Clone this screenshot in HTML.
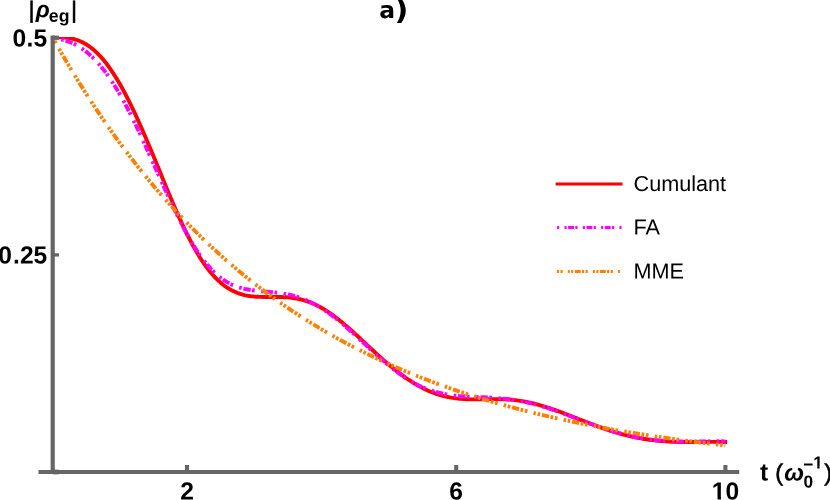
<!DOCTYPE html>
<html><head><meta charset="utf-8"><title>plot</title>
<style>
html,body{margin:0;padding:0;background:#fff;}
body{width:830px;height:500px;overflow:hidden;}
svg{display:block;will-change:transform;}
text{font-family:"Liberation Sans",sans-serif;fill:#000;text-rendering:geometricPrecision;}
.b{font-weight:bold;font-size:24.6px;}
.r{font-size:23.5px;stroke:#000;stroke-width:0.55px;}
.lg{font-size:21.65px;}
</style></head><body>
<svg width="830" height="500" viewBox="0 0 830 500">
<rect width="830" height="500" fill="#fff"/>
<clipPath id="pc"><rect x="50" y="36.9" width="690" height="440"/></clipPath>
<g fill="none" stroke-width="3.9" stroke-linejoin="round" clip-path="url(#pc)">
<path id="red" stroke="#ff0000" stroke-linecap="square" d="M52.75 37.70 L54.43 37.59 L56.11 37.50 L57.79 37.44 L59.48 37.41 L61.16 37.41 L62.84 37.46 L64.52 37.55 L66.20 37.69 L67.88 37.88 L69.56 38.12 L71.24 38.43 L72.93 38.81 L74.61 39.25 L76.29 39.76 L77.97 40.34 L79.65 41.01 L81.33 41.75 L83.01 42.57 L84.69 43.48 L86.38 44.48 L88.06 45.57 L89.74 46.75 L91.42 48.02 L93.10 49.38 L94.78 50.84 L96.46 52.40 L98.14 54.05 L99.83 55.80 L101.51 57.65 L103.19 59.60 L104.87 61.64 L106.55 63.79 L108.23 66.03 L109.91 68.36 L111.59 70.79 L113.28 73.32 L114.96 75.94 L116.64 78.65 L118.32 81.46 L120.00 84.35 L121.68 87.32 L123.36 90.38 L125.04 93.52 L126.73 96.75 L128.41 100.04 L130.09 103.41 L131.77 106.86 L133.45 110.37 L135.13 113.94 L136.81 117.58 L138.49 121.27 L140.18 125.02 L141.86 128.82 L143.54 132.66 L145.22 136.55 L146.90 140.48 L148.58 144.45 L150.26 148.45 L151.94 152.47 L153.62 156.52 L155.31 160.59 L156.99 164.68 L158.67 168.77 L160.35 172.86 L162.03 176.96 L163.71 181.05 L165.39 185.13 L167.08 189.19 L168.76 193.23 L170.44 197.23 L172.12 201.21 L173.80 205.15 L175.48 209.04 L177.16 212.88 L178.84 216.67 L180.53 220.39 L182.21 224.05 L183.89 227.64 L185.57 231.15 L187.25 234.58 L188.93 237.93 L190.61 241.18 L192.29 244.35 L193.97 247.42 L195.66 250.39 L197.34 253.26 L199.02 256.03 L200.70 258.70 L202.38 261.27 L204.06 263.74 L205.74 266.10 L207.43 268.36 L209.11 270.52 L210.79 272.58 L212.47 274.54 L214.15 276.39 L215.83 278.16 L217.51 279.82 L219.19 281.39 L220.88 282.87 L222.56 284.25 L224.24 285.55 L225.92 286.76 L227.60 287.89 L229.28 288.93 L230.96 289.89 L232.64 290.78 L234.33 291.59 L236.01 292.33 L237.69 293.00 L239.37 293.60 L241.05 294.14 L242.73 294.62 L244.41 295.04 L246.09 295.41 L247.78 295.73 L249.46 296.00 L251.14 296.23 L252.82 296.42 L254.50 296.58 L256.18 296.70 L257.86 296.80 L259.54 296.87 L261.23 296.92 L262.91 296.95 L264.59 296.97 L266.27 296.98 L267.95 296.97 L269.63 296.97 L271.31 296.96 L272.99 296.95 L274.68 296.95 L276.36 296.95 L278.04 296.97 L279.72 296.99 L281.40 297.04 L283.08 297.10 L284.76 297.18 L286.44 297.28 L288.12 297.42 L289.81 297.57 L291.49 297.76 L293.17 297.99 L294.85 298.24 L296.53 298.53 L298.21 298.86 L299.89 299.23 L301.58 299.64 L303.26 300.09 L304.94 300.58 L306.62 301.12 L308.30 301.70 L309.98 302.33 L311.66 302.99 L313.34 303.71 L315.03 304.47 L316.71 305.27 L318.39 306.13 L320.07 307.02 L321.75 307.96 L323.43 308.94 L325.11 309.97 L326.79 311.03 L328.48 312.14 L330.16 313.29 L331.84 314.47 L333.52 315.69 L335.20 316.95 L336.88 318.24 L338.56 319.56 L340.24 320.91 L341.93 322.29 L343.61 323.70 L345.29 325.13 L346.97 326.58 L348.65 328.05 L350.33 329.54 L352.01 331.05 L353.69 332.57 L355.38 334.11 L357.06 335.65 L358.74 337.21 L360.42 338.77 L362.10 340.33 L363.78 341.90 L365.46 343.48 L367.14 345.05 L368.82 346.62 L370.51 348.18 L372.19 349.74 L373.87 351.30 L375.55 352.84 L377.23 354.38 L378.91 355.90 L380.59 357.42 L382.28 358.92 L383.96 360.40 L385.64 361.87 L387.32 363.32 L389.00 364.75 L390.68 366.16 L392.36 367.55 L394.04 368.92 L395.73 370.27 L397.41 371.59 L399.09 372.89 L400.77 374.16 L402.45 375.41 L404.13 376.62 L405.81 377.82 L407.49 378.98 L409.18 380.11 L410.86 381.21 L412.54 382.28 L414.22 383.33 L415.90 384.33 L417.58 385.31 L419.26 386.25 L420.94 387.16 L422.62 388.04 L424.31 388.88 L425.99 389.68 L427.67 390.45 L429.35 391.19 L431.03 391.89 L432.71 392.55 L434.39 393.18 L436.07 393.78 L437.76 394.34 L439.44 394.87 L441.12 395.36 L442.80 395.82 L444.48 396.25 L446.16 396.65 L447.84 397.01 L449.53 397.35 L451.21 397.66 L452.89 397.93 L454.57 398.18 L456.25 398.41 L457.93 398.60 L459.61 398.78 L461.29 398.92 L462.98 399.05 L464.66 399.15 L466.34 399.24 L468.02 399.30 L469.70 399.35 L471.38 399.38 L473.06 399.40 L474.74 399.40 L476.43 399.39 L478.11 399.38 L479.79 399.36 L481.47 399.33 L483.15 399.30 L484.83 399.26 L486.51 399.23 L488.19 399.20 L489.88 399.17 L491.56 399.15 L493.24 399.14 L494.92 399.13 L496.60 399.14 L498.28 399.15 L499.96 399.18 L501.64 399.22 L503.32 399.28 L505.01 399.35 L506.69 399.44 L508.37 399.54 L510.05 399.67 L511.73 399.81 L513.41 399.97 L515.09 400.15 L516.78 400.36 L518.46 400.58 L520.14 400.82 L521.82 401.08 L523.50 401.37 L525.18 401.67 L526.86 402.00 L528.54 402.35 L530.23 402.71 L531.91 403.10 L533.59 403.50 L535.27 403.92 L536.95 404.36 L538.63 404.82 L540.31 405.30 L541.99 405.79 L543.68 406.29 L545.36 406.81 L547.04 407.35 L548.72 407.90 L550.40 408.46 L552.08 409.03 L553.76 409.61 L555.44 410.21 L557.12 410.81 L558.81 411.42 L560.49 412.04 L562.17 412.67 L563.85 413.31 L565.53 413.95 L567.21 414.59 L568.89 415.24 L570.58 415.90 L572.26 416.55 L573.94 417.21 L575.62 417.87 L577.30 418.53 L578.98 419.19 L580.66 419.85 L582.34 420.51 L584.02 421.16 L585.71 421.81 L587.39 422.46 L589.07 423.11 L590.75 423.74 L592.43 424.38 L594.11 425.01 L595.79 425.63 L597.48 426.24 L599.16 426.85 L600.84 427.45 L602.52 428.04 L604.20 428.62 L605.88 429.19 L607.56 429.76 L609.24 430.31 L610.93 430.85 L612.61 431.38 L614.29 431.90 L615.97 432.41 L617.65 432.90 L619.33 433.38 L621.01 433.85 L622.69 434.31 L624.38 434.75 L626.06 435.18 L627.74 435.60 L629.42 436.00 L631.10 436.39 L632.78 436.76 L634.46 437.12 L636.14 437.47 L637.83 437.80 L639.51 438.12 L641.19 438.42 L642.87 438.71 L644.55 438.99 L646.23 439.25 L647.91 439.50 L649.59 439.74 L651.27 439.96 L652.96 440.17 L654.64 440.37 L656.32 440.55 L658.00 440.73 L659.68 440.89 L661.36 441.04 L663.04 441.18 L664.73 441.30 L666.41 441.42 L668.09 441.52 L669.77 441.62 L671.45 441.70 L673.13 441.78 L674.81 441.84 L676.49 441.90 L678.18 441.95 L679.86 441.99 L681.54 442.02 L683.22 442.05 L684.90 442.07 L686.58 442.08 L688.26 442.08 L689.94 442.08 L691.62 442.08 L693.31 442.07 L694.99 442.06 L696.67 442.04 L698.35 442.02 L700.03 442.00 L701.71 441.98 L703.39 441.96 L705.08 441.94 L706.76 441.92 L708.44 441.90 L710.12 441.88 L711.80 441.87 L713.48 441.86 L715.16 441.86 L716.84 441.86 L718.52 441.87 L720.21 441.88 L721.89 441.91 L723.57 441.95 L725.25 441.99"/>
<path id="mag" stroke="#ff00ff" stroke-dasharray="2.574 1.84 7.36 1.468 2.695 6.506" stroke-dashoffset="13.67" d="M52.75 37.47 L54.43 37.78 L56.11 38.12 L57.79 38.48 L59.48 38.87 L61.16 39.29 L62.84 39.75 L64.52 40.25 L66.20 40.79 L67.88 41.38 L69.56 42.02 L71.24 42.72 L72.93 43.47 L74.61 44.28 L76.29 45.16 L77.97 46.10 L79.65 47.11 L81.33 48.19 L83.01 49.34 L84.69 50.56 L86.38 51.86 L88.06 53.24 L89.74 54.69 L91.42 56.23 L93.10 57.84 L94.78 59.54 L96.46 61.31 L98.14 63.17 L99.83 65.11 L101.51 67.13 L103.19 69.23 L104.87 71.42 L106.55 73.68 L108.23 76.03 L109.91 78.46 L111.59 80.97 L113.28 83.56 L114.96 86.22 L116.64 88.96 L118.32 91.78 L120.00 94.67 L121.68 97.64 L123.36 100.67 L125.04 103.77 L126.73 106.94 L128.41 110.17 L130.09 113.46 L131.77 116.80 L133.45 120.20 L135.13 123.66 L136.81 127.16 L138.49 130.70 L140.18 134.29 L141.86 137.91 L143.54 141.57 L145.22 145.25 L146.90 148.96 L148.58 152.69 L150.26 156.44 L151.94 160.20 L153.62 163.96 L155.31 167.73 L156.99 171.50 L158.67 175.26 L160.35 179.01 L162.03 182.74 L163.71 186.46 L165.39 190.16 L167.08 193.84 L168.76 197.48 L170.44 201.10 L172.12 204.67 L173.80 208.21 L175.48 211.70 L177.16 215.15 L178.84 218.54 L180.53 221.88 L182.21 225.15 L183.89 228.37 L185.57 231.52 L187.25 234.60 L188.93 237.60 L190.61 240.53 L192.29 243.37 L193.97 246.13 L195.66 248.80 L197.34 251.38 L199.02 253.87 L200.70 256.28 L202.38 258.58 L204.06 260.80 L205.74 262.92 L207.43 264.95 L209.11 266.88 L210.79 268.73 L212.47 270.48 L214.15 272.15 L215.83 273.72 L217.51 275.21 L219.19 276.61 L220.88 277.92 L222.56 279.15 L224.24 280.30 L225.92 281.38 L227.60 282.37 L229.28 283.30 L230.96 284.15 L232.64 284.93 L234.33 285.65 L236.01 286.31 L237.69 286.90 L239.37 287.45 L241.05 287.94 L242.73 288.39 L244.41 288.79 L246.09 289.15 L247.78 289.48 L249.46 289.77 L251.14 290.04 L252.82 290.28 L254.50 290.49 L256.18 290.69 L257.86 290.87 L259.54 291.04 L261.23 291.20 L262.91 291.35 L264.59 291.49 L266.27 291.64 L267.95 291.78 L269.63 291.93 L271.31 292.08 L272.99 292.24 L274.68 292.41 L276.36 292.60 L278.04 292.80 L279.72 293.02 L281.40 293.26 L283.08 293.52 L284.76 293.80 L286.44 294.11 L288.12 294.45 L289.81 294.82 L291.49 295.23 L293.17 295.66 L294.85 296.13 L296.53 296.63 L298.21 297.17 L299.89 297.75 L301.58 298.36 L303.26 299.00 L304.94 299.69 L306.62 300.40 L308.30 301.16 L309.98 301.95 L311.66 302.77 L313.34 303.62 L315.03 304.52 L316.71 305.44 L318.39 306.41 L320.07 307.40 L321.75 308.44 L323.43 309.51 L325.11 310.61 L326.79 311.75 L328.48 312.92 L330.16 314.12 L331.84 315.36 L333.52 316.63 L335.20 317.92 L336.88 319.25 L338.56 320.60 L340.24 321.98 L341.93 323.38 L343.61 324.81 L345.29 326.26 L346.97 327.72 L348.65 329.21 L350.33 330.71 L352.01 332.22 L353.69 333.75 L355.38 335.29 L357.06 336.84 L358.74 338.40 L360.42 339.96 L362.10 341.52 L363.78 343.09 L365.46 344.65 L367.14 346.21 L368.82 347.77 L370.51 349.32 L372.19 350.87 L373.87 352.41 L375.55 353.93 L377.23 355.44 L378.91 356.94 L380.59 358.43 L382.28 359.90 L383.96 361.35 L385.64 362.78 L387.32 364.19 L389.00 365.58 L390.68 366.94 L392.36 368.28 L394.04 369.60 L395.73 370.89 L397.41 372.15 L399.09 373.39 L400.77 374.59 L402.45 375.77 L404.13 376.91 L405.81 378.02 L407.49 379.10 L409.18 380.15 L410.86 381.16 L412.54 382.14 L414.22 383.08 L415.90 383.99 L417.58 384.86 L419.26 385.69 L420.94 386.48 L422.62 387.23 L424.31 387.95 L425.99 388.63 L427.67 389.28 L429.35 389.89 L431.03 390.46 L432.71 391.01 L434.39 391.52 L436.07 392.00 L437.76 392.45 L439.44 392.87 L441.12 393.27 L442.80 393.64 L444.48 393.99 L446.16 394.32 L447.84 394.62 L449.53 394.90 L451.21 395.15 L452.89 395.39 L454.57 395.60 L456.25 395.80 L457.93 395.97 L459.61 396.13 L461.29 396.27 L462.98 396.40 L464.66 396.52 L466.34 396.62 L468.02 396.71 L469.70 396.78 L471.38 396.86 L473.06 396.92 L474.74 396.98 L476.43 397.03 L478.11 397.09 L479.79 397.14 L481.47 397.19 L483.15 397.25 L484.83 397.32 L486.51 397.39 L488.19 397.47 L489.88 397.56 L491.56 397.66 L493.24 397.77 L494.92 397.89 L496.60 398.03 L498.28 398.17 L499.96 398.33 L501.64 398.49 L503.32 398.67 L505.01 398.86 L506.69 399.06 L508.37 399.28 L510.05 399.50 L511.73 399.74 L513.41 399.99 L515.09 400.25 L516.78 400.52 L518.46 400.81 L520.14 401.11 L521.82 401.42 L523.50 401.75 L525.18 402.10 L526.86 402.46 L528.54 402.83 L530.23 403.22 L531.91 403.63 L533.59 404.05 L535.27 404.48 L536.95 404.93 L538.63 405.39 L540.31 405.87 L541.99 406.35 L543.68 406.86 L545.36 407.37 L547.04 407.89 L548.72 408.43 L550.40 408.98 L552.08 409.53 L553.76 410.10 L555.44 410.68 L557.12 411.27 L558.81 411.86 L560.49 412.46 L562.17 413.08 L563.85 413.69 L565.53 414.32 L567.21 414.95 L568.89 415.58 L570.58 416.22 L572.26 416.85 L573.94 417.50 L575.62 418.14 L577.30 418.78 L578.98 419.43 L580.66 420.07 L582.34 420.71 L584.02 421.35 L585.71 421.99 L587.39 422.62 L589.07 423.25 L590.75 423.88 L592.43 424.50 L594.11 425.11 L595.79 425.72 L597.48 426.32 L599.16 426.91 L600.84 427.50 L602.52 428.08 L604.20 428.64 L605.88 429.20 L607.56 429.75 L609.24 430.29 L610.93 430.82 L612.61 431.34 L614.29 431.84 L615.97 432.34 L617.65 432.82 L619.33 433.29 L621.01 433.75 L622.69 434.19 L624.38 434.63 L626.06 435.04 L627.74 435.45 L629.42 435.84 L631.10 436.22 L632.78 436.58 L634.46 436.93 L636.14 437.26 L637.83 437.58 L639.51 437.89 L641.19 438.19 L642.87 438.47 L644.55 438.73 L646.23 438.98 L647.91 439.22 L649.59 439.45 L651.27 439.67 L652.96 439.87 L654.64 440.05 L656.32 440.23 L658.00 440.39 L659.68 440.55 L661.36 440.69 L663.04 440.82 L664.73 440.93 L666.41 441.04 L668.09 441.14 L669.77 441.22 L671.45 441.30 L673.13 441.37 L674.81 441.43 L676.49 441.48 L678.18 441.52 L679.86 441.55 L681.54 441.57 L683.22 441.59 L684.90 441.60 L686.58 441.61 L688.26 441.60 L689.94 441.60 L691.62 441.59 L693.31 441.57 L694.99 441.55 L696.67 441.53 L698.35 441.50 L700.03 441.48 L701.71 441.45 L703.39 441.42 L705.08 441.39 L706.76 441.36 L708.44 441.34 L710.12 441.32 L711.80 441.30 L713.48 441.28 L715.16 441.27 L716.84 441.27 L718.52 441.27 L720.21 441.28 L721.89 441.30 L723.57 441.33 L725.25 441.37"/>
<path id="ora" stroke="#ff8000" stroke-dasharray="2.5 1.7 2.6 1.85 7.25 1.6 2.7 1.7 2.7 6.27" stroke-dashoffset="18.15" d="M52.75 37.70 L54.43 40.71 L56.11 43.70 L57.79 46.67 L59.48 49.62 L61.16 52.55 L62.84 55.46 L64.52 58.34 L66.20 61.21 L67.88 64.06 L69.56 66.89 L71.24 69.70 L72.93 72.48 L74.61 75.25 L76.29 78.01 L77.97 80.74 L79.65 83.45 L81.33 86.14 L83.01 88.82 L84.69 91.48 L86.38 94.11 L88.06 96.73 L89.74 99.34 L91.42 101.92 L93.10 104.49 L94.78 107.03 L96.46 109.57 L98.14 112.08 L99.83 114.57 L101.51 117.05 L103.19 119.51 L104.87 121.96 L106.55 124.39 L108.23 126.80 L109.91 129.19 L111.59 131.57 L113.28 133.93 L114.96 136.27 L116.64 138.60 L118.32 140.91 L120.00 143.21 L121.68 145.49 L123.36 147.75 L125.04 150.00 L126.73 152.23 L128.41 154.45 L130.09 156.65 L131.77 158.84 L133.45 161.01 L135.13 163.17 L136.81 165.31 L138.49 167.44 L140.18 169.55 L141.86 171.65 L143.54 173.73 L145.22 175.80 L146.90 177.85 L148.58 179.89 L150.26 181.92 L151.94 183.93 L153.62 185.93 L155.31 187.91 L156.99 189.89 L158.67 191.84 L160.35 193.79 L162.03 195.71 L163.71 197.63 L165.39 199.53 L167.08 201.42 L168.76 203.30 L170.44 205.17 L172.12 207.02 L173.80 208.85 L175.48 210.68 L177.16 212.49 L178.84 214.29 L180.53 216.08 L182.21 217.86 L183.89 219.62 L185.57 221.37 L187.25 223.11 L188.93 224.84 L190.61 226.55 L192.29 228.25 L193.97 229.94 L195.66 231.62 L197.34 233.29 L199.02 234.95 L200.70 236.59 L202.38 238.23 L204.06 239.85 L205.74 241.46 L207.43 243.06 L209.11 244.65 L210.79 246.22 L212.47 247.79 L214.15 249.35 L215.83 250.89 L217.51 252.43 L219.19 253.95 L220.88 255.46 L222.56 256.96 L224.24 258.46 L225.92 259.94 L227.60 261.41 L229.28 262.87 L230.96 264.32 L232.64 265.76 L234.33 267.20 L236.01 268.62 L237.69 270.03 L239.37 271.43 L241.05 272.82 L242.73 274.21 L244.41 275.58 L246.09 276.94 L247.78 278.30 L249.46 279.64 L251.14 280.97 L252.82 282.30 L254.50 283.62 L256.18 284.93 L257.86 286.22 L259.54 287.51 L261.23 288.79 L262.91 290.07 L264.59 291.33 L266.27 292.58 L267.95 293.83 L269.63 295.07 L271.31 296.29 L272.99 297.51 L274.68 298.72 L276.36 299.93 L278.04 301.12 L279.72 302.31 L281.40 303.49 L283.08 304.66 L284.76 305.82 L286.44 306.97 L288.12 308.12 L289.81 309.26 L291.49 310.39 L293.17 311.51 L294.85 312.62 L296.53 313.73 L298.21 314.83 L299.89 315.92 L301.58 317.00 L303.26 318.08 L304.94 319.15 L306.62 320.21 L308.30 321.27 L309.98 322.31 L311.66 323.35 L313.34 324.38 L315.03 325.41 L316.71 326.43 L318.39 327.44 L320.07 328.44 L321.75 329.44 L323.43 330.43 L325.11 331.41 L326.79 332.39 L328.48 333.36 L330.16 334.32 L331.84 335.28 L333.52 336.23 L335.20 337.17 L336.88 338.11 L338.56 339.04 L340.24 339.96 L341.93 340.88 L343.61 341.79 L345.29 342.70 L346.97 343.60 L348.65 344.49 L350.33 345.37 L352.01 346.25 L353.69 347.13 L355.38 348.00 L357.06 348.86 L358.74 349.71 L360.42 350.56 L362.10 351.41 L363.78 352.24 L365.46 353.08 L367.14 353.90 L368.82 354.72 L370.51 355.54 L372.19 356.35 L373.87 357.15 L375.55 357.95 L377.23 358.74 L378.91 359.53 L380.59 360.31 L382.28 361.09 L383.96 361.86 L385.64 362.63 L387.32 363.39 L389.00 364.14 L390.68 364.89 L392.36 365.64 L394.04 366.38 L395.73 367.11 L397.41 367.84 L399.09 368.56 L400.77 369.28 L402.45 370.00 L404.13 370.71 L405.81 371.41 L407.49 372.11 L409.18 372.81 L410.86 373.50 L412.54 374.18 L414.22 374.86 L415.90 375.54 L417.58 376.21 L419.26 376.87 L420.94 377.54 L422.62 378.19 L424.31 378.85 L425.99 379.49 L427.67 380.14 L429.35 380.78 L431.03 381.41 L432.71 382.04 L434.39 382.67 L436.07 383.29 L437.76 383.91 L439.44 384.52 L441.12 385.13 L442.80 385.73 L444.48 386.33 L446.16 386.93 L447.84 387.52 L449.53 388.11 L451.21 388.69 L452.89 389.27 L454.57 389.85 L456.25 390.42 L457.93 390.99 L459.61 391.55 L461.29 392.11 L462.98 392.67 L464.66 393.22 L466.34 393.77 L468.02 394.32 L469.70 394.86 L471.38 395.39 L473.06 395.93 L474.74 396.46 L476.43 396.98 L478.11 397.51 L479.79 398.02 L481.47 398.54 L483.15 399.05 L484.83 399.56 L486.51 400.06 L488.19 400.56 L489.88 401.06 L491.56 401.56 L493.24 402.05 L494.92 402.53 L496.60 403.02 L498.28 403.50 L499.96 403.98 L501.64 404.45 L503.32 404.92 L505.01 405.39 L506.69 405.85 L508.37 406.31 L510.05 406.77 L511.73 407.23 L513.41 407.68 L515.09 408.13 L516.78 408.57 L518.46 409.01 L520.14 409.45 L521.82 409.89 L523.50 410.32 L525.18 410.75 L526.86 411.18 L528.54 411.60 L530.23 412.03 L531.91 412.44 L533.59 412.86 L535.27 413.27 L536.95 413.68 L538.63 414.09 L540.31 414.49 L541.99 414.89 L543.68 415.29 L545.36 415.69 L547.04 416.08 L548.72 416.47 L550.40 416.86 L552.08 417.24 L553.76 417.62 L555.44 418.00 L557.12 418.38 L558.81 418.76 L560.49 419.13 L562.17 419.50 L563.85 419.86 L565.53 420.23 L567.21 420.59 L568.89 420.95 L570.58 421.30 L572.26 421.66 L573.94 422.01 L575.62 422.36 L577.30 422.71 L578.98 423.05 L580.66 423.39 L582.34 423.73 L584.02 424.07 L585.71 424.40 L587.39 424.74 L589.07 425.07 L590.75 425.39 L592.43 425.72 L594.11 426.04 L595.79 426.36 L597.48 426.68 L599.16 427.00 L600.84 427.31 L602.52 427.63 L604.20 427.94 L605.88 428.25 L607.56 428.55 L609.24 428.86 L610.93 429.16 L612.61 429.46 L614.29 429.75 L615.97 430.05 L617.65 430.34 L619.33 430.63 L621.01 430.92 L622.69 431.21 L624.38 431.50 L626.06 431.78 L627.74 432.06 L629.42 432.34 L631.10 432.62 L632.78 432.89 L634.46 433.17 L636.14 433.44 L637.83 433.71 L639.51 433.98 L641.19 434.24 L642.87 434.51 L644.55 434.77 L646.23 435.03 L647.91 435.29 L649.59 435.55 L651.27 435.80 L652.96 436.06 L654.64 436.31 L656.32 436.56 L658.00 436.81 L659.68 437.05 L661.36 437.30 L663.04 437.54 L664.73 437.78 L666.41 438.02 L668.09 438.26 L669.77 438.50 L671.45 438.73 L673.13 438.97 L674.81 439.20 L676.49 439.43 L678.18 439.66 L679.86 439.88 L681.54 440.11 L683.22 440.33 L684.90 440.56 L686.58 440.78 L688.26 441.00 L689.94 441.21 L691.62 441.43 L693.31 441.64 L694.99 441.86 L696.67 442.07 L698.35 442.28 L700.03 442.49 L701.71 442.69 L703.39 442.90 L705.08 443.10 L706.76 443.31 L708.44 443.51 L710.12 443.71 L711.80 443.91 L713.48 444.11 L715.16 444.30 L716.84 444.50 L718.52 444.69 L720.21 444.88 L721.89 445.07 L723.57 445.26 L725.25 445.45"/>
</g>
<g stroke="#666666" stroke-width="4.2" fill="none">
<path d="M52.7 35.6V474"/>
<path stroke-width="4" d="M38.5 471.9H739.2"/>
<path stroke-width="4.1" d="M187 465.1V472M456.2 465.1V472M725.4 465.1V472"/>
<path d="M52.7 37.7H59"/><path stroke-width="4.7" d="M52.7 472H59.2"/><path stroke-width="3.3" d="M52.7 254.9H59"/>
</g>
<text class="b" x="47.1" y="46.5" transform="rotate(0.06 47.1 46.5)" text-anchor="end">0<tspan dx="0.3">.</tspan>5</text>
<text class="b" x="47.3" y="263.6" transform="rotate(0.06 47.3 263.6)" text-anchor="end">0<tspan dx="1.1">.</tspan>25</text>
<text class="b" x="187" y="499.6" transform="rotate(0.06 187 499.6)" text-anchor="middle">2</text>
<text class="b" x="456.2" y="499.6" transform="rotate(0.06 456.2 499.6)" text-anchor="middle">6</text>
<text class="b" x="725.5" y="499.6" transform="rotate(0.06 725.5 499.6)" text-anchor="middle">10</text>
<path fill="#fff" d="M712.8 496.9H717.56V500H712.8ZM720.94 496.9H725.3V500H720.94Z"/>
<text class="r" x="28.5" y="17.8" transform="rotate(0.06 28.5 17.8)">|</text>
<text class="b" x="35.7" y="17.3" transform="rotate(0.06 35.7 17.3)" style="font-size:23px;font-style:italic">ρ</text>
<text class="b" x="48.8" y="21.7" transform="rotate(0.06 48.8 21.7)" style="font-size:17.7px">eg</text>
<text class="r" x="71" y="17.8" transform="rotate(0.06 71 17.8)">|</text>
<text class="b" x="760" y="480.5" transform="rotate(0.06 760 480.5)">t</text>
<text class="r" x="775.3" y="480.5" transform="rotate(0.06 775.3 480.5)">(</text>
<text class="b" x="784.3" y="480.4" transform="rotate(0.06 784 480.5)" style="font-size:23.6px;font-style:italic">ω</text>
<text class="b" x="803.6" y="487.5" transform="rotate(0.06 803.6 487.5)" style="font-size:17.3px">0</text>
<text class="b" x="803.3" y="470.2" transform="rotate(0.06 803.3 470.2)" style="font-size:17.3px">−</text>
<text class="b" x="813.2" y="468.5" transform="rotate(0.06 813.2 468.5)" style="font-size:17.3px">1</text>
<path fill="#fff" d="M813.8 465.9H817.24V469.2H813.8ZM819.61 465.9H822.8V469.2H819.61Z"/>
<text class="r" x="824.2" y="480.5" transform="rotate(0.06 824.2 480.5)">)</text>
<g aria-label="a)"><title>a)</title>
<g transform="translate(379.3 18.05) scale(0.0114 -0.0114)"><path d="M674 504Q562 504 505.5 466.0Q449 428 449 354Q449 286 494.5 247.5Q540 209 621 209Q722 209 791.0 281.5Q860 354 860 463V504ZM1221 639V0H860V166Q788 64 698.0 17.5Q608 -29 479 -29Q305 -29 196.5 72.5Q88 174 88 336Q88 533 223.5 625.0Q359 717 649 717H860V745Q860 830 793.0 869.5Q726 909 584 909Q469 909 370.0 886.0Q271 863 186 817V1090Q301 1118 417.0 1132.5Q533 1147 649 1147Q952 1147 1086.5 1027.5Q1221 908 1221 639Z"/></g>
<g transform="translate(394.5 19.3) scale(0.0148 -0.0135)"><path d="M164 -270Q292 -32 356.0 195.0Q420 422 420 643Q420 864 356.0 1090.5Q292 1317 164 1554H461Q613 1309 686.5 1084.5Q760 860 760 641Q760 422 687.0 199.5Q614 -23 461 -270Z"/></g>
</g>
<g fill="none" stroke-width="2.95">
<path stroke="#ff0000" d="M555.6 184.05H622.5"/>
<path stroke="#ff00ff" stroke-dasharray="2.1 1.5 6 1.2 2.2 5.3" stroke-dashoffset="9.7" d="M555.9 227.5H622.5"/>
<path stroke="#ff8000" stroke-dasharray="2 1.4 2.1 1.5 5.9 1.3 2.2 1.4 2.2 5.1" stroke-dashoffset="13.2" d="M555.9 271.4H621.4"/>
</g>
<text class="lg" x="633.5" y="190.9" transform="rotate(0.06 633.5 190.9)">Cumulant</text>
<text class="lg" x="633.5" y="234.6" transform="rotate(0.06 633.5 234.6)">FA</text>
<text class="lg" x="633.5" y="278.4" transform="rotate(0.06 633.5 278.4)">MME</text>
</svg>
</body></html>
